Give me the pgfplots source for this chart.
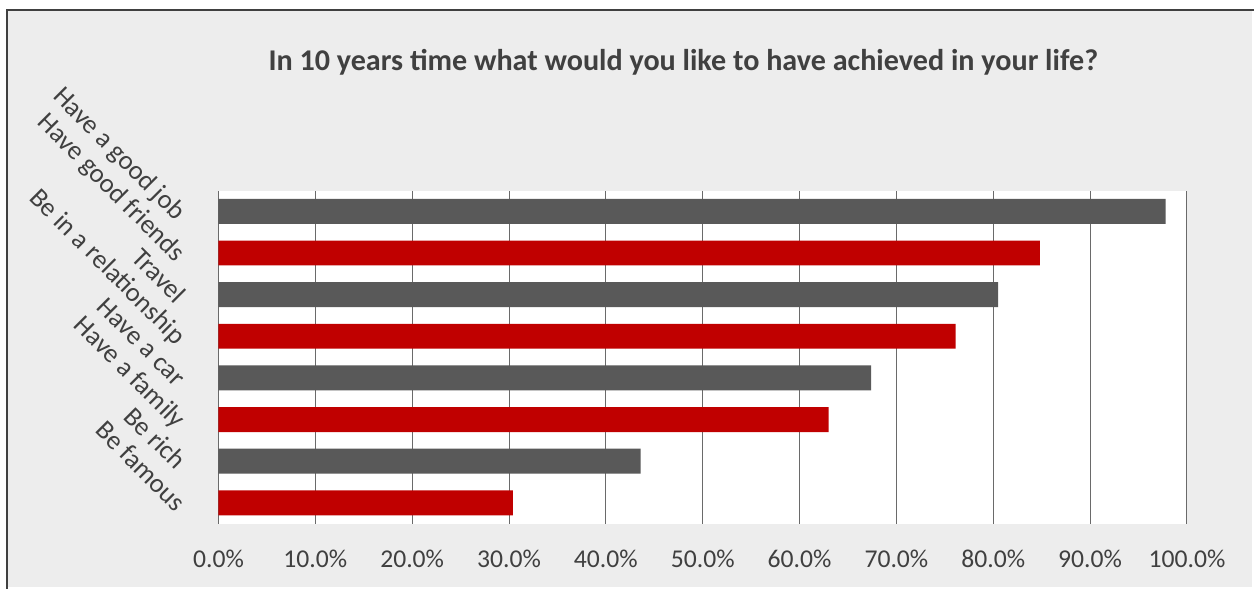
\documentclass[border=0pt]{standalone}
\usepackage{pgfplots}
\pgfplotsset{compat=1.18}
\usepackage{fontspec}
\setmainfont{Carlito}
\definecolor{bg}{HTML}{EDEDED}
\definecolor{frame}{HTML}{404040}
\definecolor{txt}{HTML}{404040}
\definecolor{bargray}{HTML}{595959}
\definecolor{barred}{HTML}{C00000}
\definecolor{gridc}{HTML}{6A6A6A}
\begin{document}
\begin{tikzpicture}
\path[fill=white] (0,0) rectangle (627.5pt,294pt);
\fill[bg] (3.5pt,0) rectangle (627.5pt,289pt);
\draw[frame, line width=1.2pt] (3.5pt,-1pt) -- (3.5pt,289pt) -- (628.5pt,289pt);
\node[font=\bfseries\fontsize{15.1}{18}\selectfont, text=txt] at (342.5pt,263pt) {In 10 years time what would you like to have achieved in your life?};
\begin{axis}[
  at={(109.5pt,31.5pt)}, anchor=south west,
  scale only axis, width=485.5pt, height=167pt,
  xmin=0, xmax=100, ymin=-0.5, ymax=7.5,
  xbar, bar width=12.5pt, bar shift=0pt,
  axis background/.style={fill=white},
  axis line style={draw=none},
  xmajorgrids, major grid style={color=gridc, line width=0.5pt},
  major tick length=0pt,
  xtick={0,10,...,100},
  ytick={0,...,7},
  yticklabels={Be famous, Be rich, Have a family, Have a car, Be in a relationship, Travel, Have good friends, Have a good job},
  /pgf/number format/assume math mode=true,
  xticklabel={\pgfmathprintnumber[fixed,fixed zerofill,precision=1]{\tick}\%},
  xticklabel style={font=\fontsize{12.85}{15}\selectfont, text=txt, yshift=-9.5pt},
  yticklabel shift=21.5pt,
  yticklabel style={font=\fontsize{13.4}{15}\selectfont, text=txt, yshift=-5pt, rotate=-45, anchor=base east, inner sep=0pt},
]
\addplot[fill=bargray, draw=none] coordinates {(97.8,7) (80.5,5) (67.4,3) (43.6,1)};
\addplot[fill=barred, draw=none] coordinates {(84.8,6) (76.1,4) (63.0,2) (30.4,0)};
\end{axis}
\end{tikzpicture}
\end{document}
